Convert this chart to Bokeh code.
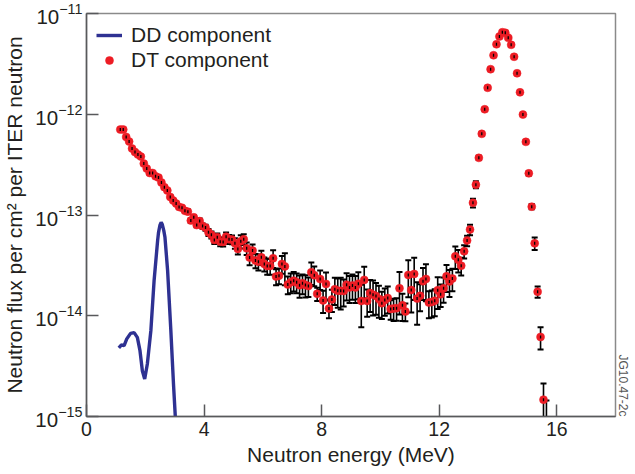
import math
from bokeh.plotting import figure
from bokeh.models import (ColumnDataSource, Legend, LegendItem, Title, FixedTicker)
from bokeh.embed import file_html
from bokeh.resources import INLINE

# ---------------- data ----------------
dt_energy = [
    1.15, 1.25, 1.35, 1.45, 1.55, 1.65, 1.75, 1.85, 1.95, 2.05,
    2.15, 2.25, 2.35, 2.45, 2.55, 2.65, 2.75, 2.85, 2.95, 3.05,
    3.15, 3.25, 3.35, 3.45, 3.55, 3.65, 3.75, 3.85, 3.95, 4.05,
    4.15, 4.25, 4.35, 4.45, 4.55, 4.65, 4.75, 4.85, 4.95, 5.05,
    5.15, 5.25, 5.35, 5.45, 5.55, 5.65, 5.75, 5.85, 5.95, 6.05,
    6.15, 6.25, 6.35, 6.45, 6.55, 6.65, 6.75, 6.85, 6.95, 7.05,
    7.15, 7.25, 7.35, 7.45, 7.55, 7.65, 7.75, 7.85, 7.95, 8.05,
    8.15, 8.25, 8.35, 8.45, 8.55, 8.65, 8.75, 8.85, 8.95, 9.05,
    9.15, 9.25, 9.35, 9.45, 9.55, 9.65, 9.75, 9.85, 9.95, 10.05,
    10.15, 10.25, 10.35, 10.45, 10.55, 10.65, 10.75, 10.85, 10.95, 11.05,
    11.15, 11.25, 11.35, 11.45, 11.55, 11.65, 11.75, 11.85, 11.95, 12.05,
    12.15, 12.25, 12.35, 12.45, 12.55, 12.65, 12.75, 12.85, 12.95, 13.05,
    13.15, 13.25, 13.35, 13.45, 13.55, 13.65, 13.75, 13.85, 13.95, 14.05,
    14.15, 14.25, 14.35, 14.45, 14.55, 14.65, 14.75, 14.85, 14.95, 15.05,
    15.15, 15.25, 15.35, 15.45, 15.55, 15.65,
]
dt_flux = [
    7.05e-13, 7.05e-13, 5.96e-13, 5.36e-13, 4.57e-13, 4.21e-13, 3.98e-13, 3.80e-13, 3.24e-13, 2.89e-13,
    2.61e-13, 2.61e-13, 2.42e-13, 2.35e-13, 2.10e-13, 1.89e-13, 1.75e-13, 1.51e-13, 1.39e-13, 1.30e-13,
    1.20e-13, 1.18e-13, 1.10e-13, 1.08e-13, 8.80e-14, 9.49e-14, 7.94e-14, 8.70e-14, 7.76e-14, 7.50e-14,
    6.73e-14, 6.35e-14, 5.66e-14, 6.01e-14, 5.44e-14, 5.40e-14, 6.10e-14, 5.74e-14, 5.70e-14, 5.24e-14,
    4.61e-14, 5.48e-14, 5.74e-14, 4.67e-14, 3.78e-14, 4.43e-14, 3.53e-14, 3.44e-14, 3.80e-14, 3.27e-14,
    3.12e-14, 3.12e-14, 3.72e-14, 2.45e-14, 2.50e-14, 3.27e-14, 3.09e-14, 2.04e-14, 2.15e-14, 2.23e-14,
    2.15e-14, 2.01e-14, 2.10e-14, 2.02e-14, 1.97e-14, 2.70e-14, 2.52e-14, 1.65e-14, 2.31e-14, 1.42e-14,
    2.07e-14, 1.18e-14, 1.45e-14, 1.83e-14, 1.77e-14, 1.77e-14, 1.76e-14, 2.03e-14, 1.91e-14, 2.00e-14,
    1.91e-14, 2.08e-14, 1.40e-14, 2.27e-14, 1.40e-14, 1.68e-14, 1.62e-14, 1.57e-14, 1.47e-14, 1.33e-14,
    1.43e-14, 1.50e-14, 1.17e-14, 1.18e-14, 1.19e-14, 1.87e-14, 1.27e-14, 1.10e-14, 2.54e-14, 1.80e-14,
    2.60e-14, 1.48e-14, 1.58e-14, 2.20e-14, 2.32e-14, 1.35e-14, 1.37e-14, 1.41e-14, 1.79e-14, 1.63e-14,
    1.87e-14, 2.46e-14, 2.19e-14, 2.34e-14, 3.89e-14, 3.59e-14, 3.14e-14, 4.36e-14, 5.57e-14, 7.16e-14,
    1.32e-13, 2.00e-13, 3.69e-13, 6.39e-13, 1.12e-12, 1.83e-12, 2.80e-12, 3.85e-12, 4.95e-12, 5.91e-12,
    6.52e-12, 6.43e-12, 5.74e-12, 4.89e-12, 3.72e-12, 2.55e-12, 1.65e-12, 9.93e-13, 5.32e-13, 2.59e-13,
    1.21e-13, 5.24e-14, 1.73e-14, 6.16e-15, 1.47e-15, 8.0e-16,
]
# relative (1-sigma) error of each DT point
dt_rel_err = [
    0.02, 0.02, 0.02, 0.02, 0.02, 0.02, 0.02, 0.02, 0.02, 0.02,
    0.02, 0.02, 0.02, 0.02, 0.03, 0.03, 0.03, 0.03, 0.03, 0.04,
    0.04, 0.04, 0.04, 0.05, 0.05, 0.05, 0.05, 0.06, 0.06, 0.07,
    0.08, 0.08, 0.09, 0.09, 0.10, 0.10, 0.10, 0.10, 0.10, 0.12,
    0.12, 0.15, 0.12, 0.14, 0.16, 0.15, 0.16, 0.18, 0.16, 0.16,
    0.18, 0.18, 0.20, 0.18, 0.18, 0.20, 0.35, 0.20, 0.22, 0.22,
    0.22, 0.25, 0.22, 0.25, 0.22, 0.25, 0.22, 0.15, 0.22, 0.25,
    0.30, 0.20, 0.25, 0.30, 0.32, 0.35, 0.30, 0.30, 0.30, 0.28,
    0.30, 0.30, 0.45, 0.35, 0.30, 0.35, 0.38, 0.35, 0.35, 0.30,
    0.30, 0.30, 0.22, 0.25, 0.25, 0.45, 0.30, 0.20, 0.40, 0.40,
    0.45, 0.45, 0.30, 0.35, 0.40, 0.30, 0.30, 0.30, 0.35, 0.25,
    0.28, 0.30, 0.30, 0.25, 0.25, 0.25, 0.20, 0.15, 0.12, 0.12,
    0.10, 0.08, 0.05, 0.04, 0.03, 0.03, 0.03, 0.03, 0.03, 0.03,
    0.03, 0.03, 0.03, 0.03, 0.03, 0.03, 0.03, 0.03, 0.04, 0.05,
    0.06, 0.14, 0.13, 0.25, 0.45, 0.80,
]

dd_energy = [1.10, 1.19, 1.28, 1.37, 1.50, 1.62, 1.73, 1.82, 1.90, 1.98,
             2.07, 2.19, 2.30, 2.42, 2.45, 2.50, 2.54, 2.58, 2.63, 2.67,
             2.76, 2.87, 2.96, 3.02, 3.08]
dd_flux = [4.79e-15, 5.13e-15, 5.05e-15, 5.89e-15, 6.69e-15, 6.80e-15, 6.10e-15, 4.50e-15, 2.85e-15, 2.36e-15,
           3.32e-15, 7.11e-15, 2.23e-14, 5.57e-14, 6.69e-14, 7.94e-14, 8.46e-14, 8.03e-14, 7.00e-14, 6.01e-14,
           2.81e-14, 7.11e-15, 2.10e-15, 1.02e-15, 4.0e-16]

x_ticks = [0, 4, 8, 12, 16]
y_ticks = [1e-15, 1e-14, 1e-13, 1e-12, 1e-11]

legend_labels = ["DD component", "DT component"]
x_label = "Neutron energy (MeV)"
y_label = "Neutron flux per cm\u00b2 per ITER neutron"
figure_id = "JG10.47-2c"

# ---------------- styling ----------------
FONT = "Liberation Sans"
TXT = "#231F20"
RED = "#ED1C24"
BLUE = "#2E3192"
AX = "#58595B"

lower = [f * (1 - r) if r < 1 else f * 0.05 for f, r in zip(dt_flux, dt_rel_err)]
upper = [f * (1 + r) for f, r in zip(dt_flux, dt_rel_err)]
src = ColumnDataSource(dict(x=dt_energy, y=dt_flux, lo=lower, hi=upper))

p = figure(width=635, height=474, x_range=(0, 18), y_range=(1e-15, 1e-11),
           y_axis_type="log", output_backend="svg", toolbar_location=None,
           min_border_left=86, min_border_right=20, min_border_top=13,
           min_border_bottom=58)
p.background_fill_color = "white"
p.border_fill_color = "white"
p.outline_line_color = "#8A8A8A"
p.outline_line_width = 1.5
p.xgrid.visible = False
p.ygrid.visible = False

# DD curve
dd = p.line(dd_energy, dd_flux, line_color=BLUE, line_width=3.4)

# DT error bars
p.segment(x0="x", y0="lo", x1="x", y1="hi", source=src, line_color="black", line_width=1.6)
p.scatter(x="x", y="hi", source=src, marker="dash", size=6, line_color="black", line_width=2)
p.scatter(x="x", y="lo", source=src, marker="dash", size=6, line_color="black", line_width=2)
# DT points
dt = p.scatter(x="x", y="y", source=src, marker="circle", size=8,
               fill_color=RED, line_color=RED, line_width=0.5)
p.scatter(x="x", y="y", source=src, marker="dash", angle=math.pi / 2, size=3,
          line_color="black", line_width=1.3)

# axes
for ax in (p.xaxis[0], p.yaxis[0]):
    ax.axis_line_color = AX
    ax.axis_line_width = 1.5
    ax.major_tick_line_color = AX
    ax.major_tick_line_width = 1.5
    ax.major_tick_in = 12
    ax.major_tick_out = 0
    ax.minor_tick_line_color = None
    ax.major_label_text_font = FONT
    ax.major_label_text_color = TXT
    ax.axis_label_text_font = FONT
    ax.axis_label_text_font_size = "21px"
    ax.axis_label_text_font_style = "normal"
    ax.axis_label_text_color = TXT

p.xaxis.major_label_text_font_size = "19.5px"
p.yaxis.major_label_text_font_size = "20.5px"
p.xaxis.ticker = FixedTicker(ticks=x_ticks)
p.yaxis.ticker = FixedTicker(ticks=y_ticks)
p.xaxis.axis_label = x_label
p.yaxis.axis_label = y_label
p.xaxis.major_label_standoff = 5
p.xaxis.axis_label_standoff = 4
p.yaxis.major_label_standoff = 4
p.yaxis.axis_label_standoff = 6

legend = Legend(items=[LegendItem(label=legend_labels[0], renderers=[dd]),
                       LegendItem(label=legend_labels[1], renderers=[dt])],
                location="top_left", border_line_color=None, background_fill_alpha=0,
                label_text_font=FONT, label_text_font_size="21px", label_text_color=TXT,
                glyph_width=26, glyph_height=20, label_standoff=9, spacing=1,
                padding=6, margin=10)
p.add_layout(legend)

p.add_layout(Title(text=figure_id, align="right", text_font=FONT, text_font_size="12px",
                   text_font_style="normal", text_color="#555555", standoff=0,
                   offset=0), "right")

open("out.html", "w").write(file_html(p, INLINE))
